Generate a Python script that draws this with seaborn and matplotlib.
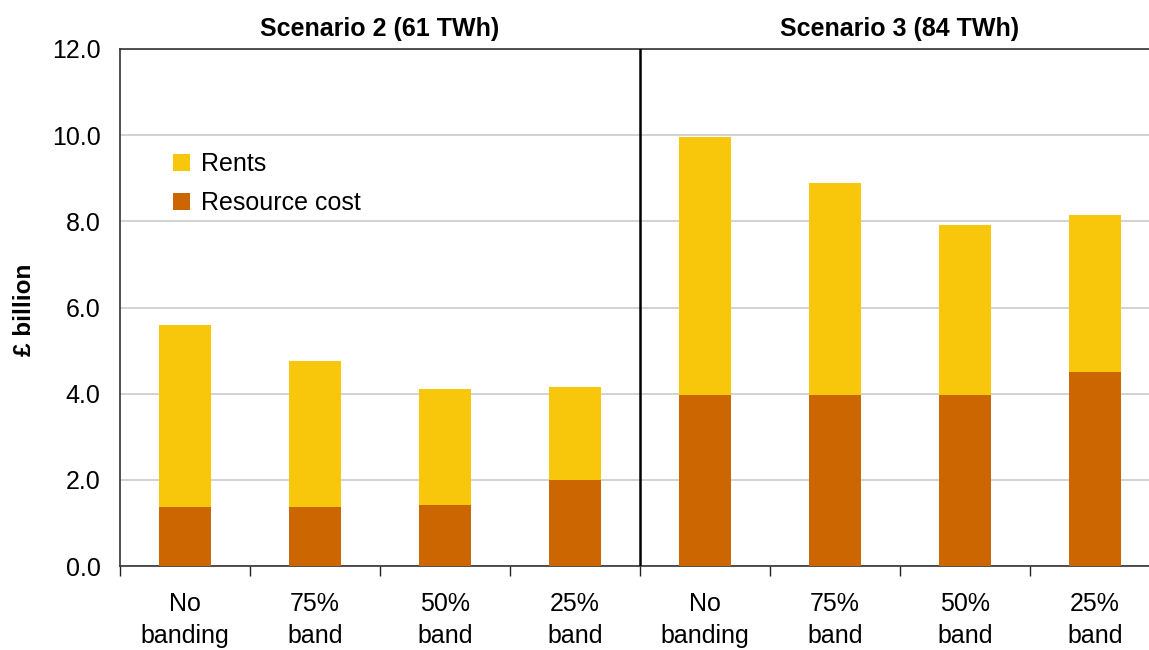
import matplotlib
matplotlib.use("Agg")
import matplotlib.pyplot as plt
from matplotlib.patches import Patch
from matplotlib.ticker import FixedLocator, NullFormatter
import numpy as np
import pandas as pd
import seaborn as sns

# Data (£ billion)
scenarios = ["Scenario 2 (61 TWh)", "Scenario 3 (84 TWh)"]
band_labels = ["No\nbanding", "75%\nband", "50%\nband", "25%\nband"]
resource_s2 = [1.37, 1.37, 1.42, 2.00]
total_s2 = [5.59, 4.76, 4.11, 4.16]
resource_s3 = [3.98, 3.98, 3.98, 4.50]
total_s3 = [9.96, 8.89, 7.92, 8.15]

yticks = [0, 2, 4, 6, 8, 10, 12]

RENTS = "#F8C60A"
RESOURCE = "#CC6600"

rows = []
for s_i, (res, tot) in enumerate([(resource_s2, total_s2), (resource_s3, total_s3)]):
    for b_i, lab in enumerate(band_labels):
        rows.append({"key": f"{s_i}-{b_i}", "label": lab, "scenario": scenarios[s_i],
                     "resource": res[b_i], "total": tot[b_i]})
df = pd.DataFrame(rows)
order = list(df["key"])

sns.set_theme(style="white")
plt.rcParams["font.family"] = ["Liberation Sans", "DejaVu Sans"]
plt.rcParams["text.color"] = "black"
plt.rcParams["xtick.color"] = "black"
plt.rcParams["ytick.color"] = "black"
plt.rcParams["axes.labelcolor"] = "black"

fig = plt.figure(figsize=(11.49, 6.5), dpi=100)
W, H = 1149, 650
left, right, top, bottom = 120, 1160, 49, 566
ax = fig.add_axes([left / W, 1 - bottom / H, (right - left) / W, (bottom - top) / H])

# Stacked bars: full height in yellow (rents on top), resource cost overlaid from zero
sns.barplot(data=df, x="key", y="total", order=order, color=RENTS, width=0.4,
            saturation=1, ax=ax, zorder=2)
sns.barplot(data=df, x="key", y="resource", order=order, color=RESOURCE, width=0.4,
            saturation=1, ax=ax, zorder=3)
for p in ax.patches:
    p.set_edgecolor("none")
    p.set_linewidth(0)

ax.set_xlim(-0.5, len(order) - 0.5)
ax.set_ylim(0, 12)
ax.set_yticks(yticks)
ax.set_yticklabels([f"{v:.1f}" for v in yticks], fontsize=18)
ax.yaxis.grid(True, color="#CFCFCF", linewidth=1.3, zorder=0)
ax.set_axisbelow(True)
ax.tick_params(axis="y", length=0, pad=14)

# Category boundary ticks below the axis, labels centred between them
ax.xaxis.set_major_locator(FixedLocator(np.arange(-0.5, len(order), 1.0)))
ax.xaxis.set_major_formatter(NullFormatter())
ax.set_xticks(np.arange(len(order)), minor=True)
ax.set_xticklabels(list(df["label"]), minor=True, fontsize=18, linespacing=1.4)
ax.tick_params(axis="x", which="major", direction="out", length=7, width=1,
               color="#222222", bottom=True)
ax.tick_params(axis="x", which="minor", length=0, pad=19)
ax.set_xlabel("")

ax.set_ylabel("£ billion", fontsize=17.5, fontweight="bold")
ax.yaxis.set_label_coords(-0.081, 0.495)

for side in ["left", "bottom", "top", "right"]:
    ax.spines[side].set_color("#333333")
    ax.spines[side].set_linewidth(1.2)

# Divider between the two scenarios
ax.axvline(3.5, color="black", linewidth=1.8, zorder=4)

# Scenario headings
for i, name in enumerate(scenarios):
    ax.text(1.5 + 4 * i, 12.3, name, ha="center", va="baseline", fontsize=18,
            fontweight="bold")

handles = [Patch(facecolor=RENTS, edgecolor="none", label="Rents"),
           Patch(facecolor=RESOURCE, edgecolor="none", label="Resource cost")]
ax.legend(handles=handles, loc="upper left", bbox_to_anchor=(0.041, 0.82),
          frameon=False, fontsize=18, handlelength=0.7, handleheight=0.7,
          handletextpad=0.45, labelspacing=0.6, borderaxespad=0)

fig.savefig("out.png", dpi=100)
